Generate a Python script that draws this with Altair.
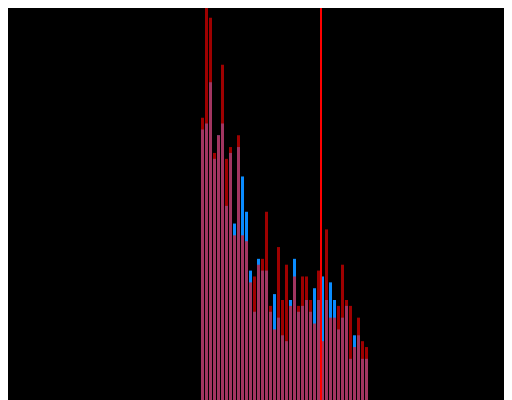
import altair as alt
import pandas as pd

# histogram bins (bin index start), two overlaid series and a mean marker
bin_start = list(range(42))
blue_counts = [46, 47, 54, 41, 45, 47, 33, 42, 30, 43, 38, 32, 22, 15, 24, 22, 22, 15, 18, 14, 11,
               10, 17, 24, 15, 16, 17, 15, 19, 17, 21, 17, 20, 17, 12, 14, 16, 7, 11, 11, 7, 7]
red_counts = [48, 68, 65, 42, 45, 57, 41, 43, 28, 45, 28, 27, 20, 21, 23, 24, 32, 16, 12, 26, 17,
              23, 16, 21, 16, 21, 21, 17, 13, 22, 10, 29, 14, 14, 16, 23, 17, 16, 9, 14, 10, 9]
mean_value = [30]

df = pd.DataFrame({
    "start": bin_start,
    "end": [s + 1 for s in bin_start],
    "blue": blue_counts,
    "red": red_counts,
})
mean_df = pd.DataFrame({"mean": mean_value})

W, H = 496, 392
xscale = alt.Scale(domain=[-48.25, -48.25 + W / 4], nice=False, zero=False)
yscale = alt.Scale(domain=[0, H / (400 / 68)], nice=False, zero=True)

blue = alt.Chart(df).mark_bar(color="#0a8cff", clip=True, x2Offset=-1).encode(
    x=alt.X("start:Q", scale=xscale, axis=None),
    x2="end:Q",
    y=alt.Y("blue:Q", scale=yscale, axis=None),
    y2=alt.datum(0),
)
red = alt.Chart(df).mark_bar(color="#ff0000", opacity=0.62, clip=True, x2Offset=-1).encode(
    x=alt.X("start:Q", scale=xscale, axis=None),
    x2="end:Q",
    y=alt.Y("red:Q", scale=yscale, axis=None),
    y2=alt.datum(0),
)
rule = alt.Chart(mean_df).mark_rule(color="#ff0000", strokeWidth=2).encode(
    x=alt.X("mean:Q", scale=xscale, axis=None),
)

chart = alt.layer(blue, red, rule).properties(
    width=W, height=H, background="black", padding=0,
    autosize=alt.AutoSizeParams(type="none"),
).configure_view(stroke=None)

chart.save("out.html", embed_options={"renderer": "svg", "actions": False})
